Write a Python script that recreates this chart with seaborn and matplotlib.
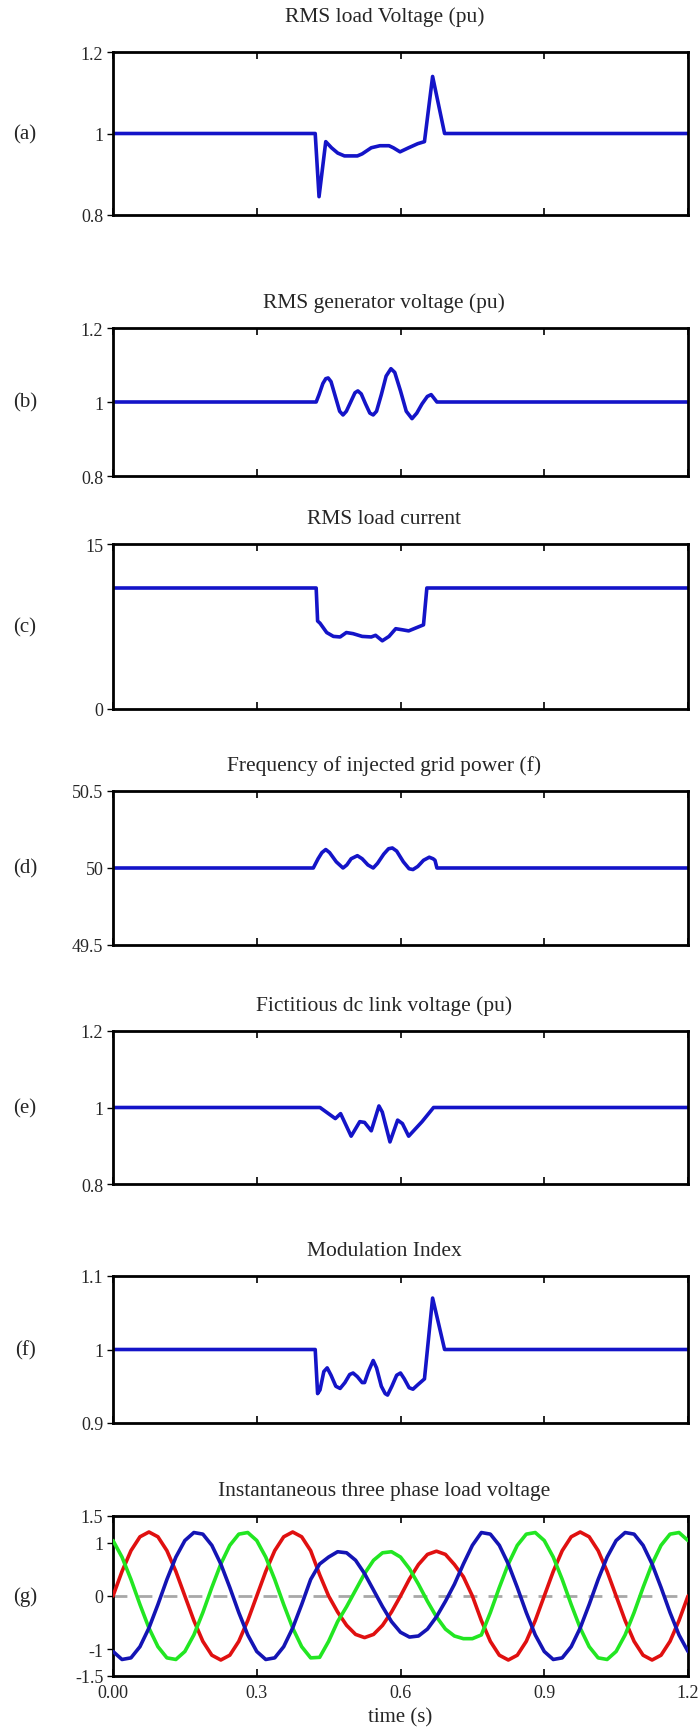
import numpy as np
import pandas as pd
import matplotlib
matplotlib.use("Agg")
import matplotlib.pyplot as plt
import seaborn as sns

# ---------------- data ----------------
titles = ["RMS load Voltage (pu)", "RMS generator voltage (pu)", "RMS load current",
          "Frequency of injected grid power (f)", "Fictitious dc link voltage (pu)",
          "Modulation Index", "Instantaneous three phase load voltage"]
panel_labels = ["(a)", "(b)", "(c)", "(d)", "(e)", "(f)", "(g)"]

ta = [0, 0.422, 0.43, 0.444, 0.456, 0.469, 0.483, 0.51, 0.52, 0.539, 0.557, 0.576, 0.585, 0.599,
      0.617, 0.636, 0.65, 0.667, 0.692, 1.2]
va = [1.0, 1.0, 0.845, 0.98, 0.965, 0.952, 0.945, 0.945, 0.95, 0.965, 0.97, 0.97, 0.965, 0.955,
      0.965, 0.975, 0.98, 1.14, 1.0, 1.0]

tb = [0, 0.424, 0.43, 0.438, 0.444, 0.449, 0.455, 0.464, 0.473, 0.48, 0.487, 0.496, 0.505, 0.511,
      0.518, 0.527, 0.536, 0.543, 0.55, 0.56, 0.57, 0.58, 0.588, 0.6, 0.612, 0.624, 0.634, 0.645,
      0.656, 0.664, 0.67, 0.676, 1.2]
vb = [1.0, 1.0, 1.02, 1.05, 1.063, 1.065, 1.055, 1.015, 0.975, 0.965, 0.975, 1.0, 1.025, 1.03,
      1.022, 0.995, 0.97, 0.965, 0.975, 1.02, 1.07, 1.09, 1.08, 1.03, 0.975, 0.955, 0.97, 0.995,
      1.015, 1.02, 1.01, 1.0, 1.0]

tc = [0, 0.424, 0.427, 0.432, 0.446, 0.46, 0.474, 0.487, 0.501, 0.52, 0.539, 0.548, 0.562,
      0.576, 0.59, 0.604, 0.617, 0.631, 0.648, 0.655, 1.2]
vc = [11.0, 11.0, 8.0, 7.8, 6.95, 6.6, 6.55, 6.95, 6.85, 6.6, 6.55, 6.7, 6.2,
      6.6, 7.3, 7.2, 7.1, 7.35, 7.65, 11.0, 11.0]

td = [0, 0.418, 0.428, 0.436, 0.444, 0.452, 0.466, 0.48, 0.488, 0.497, 0.51, 0.52, 0.532, 0.543,
      0.552, 0.565, 0.575, 0.583, 0.592, 0.606, 0.618, 0.626, 0.636, 0.648, 0.66, 0.668, 0.672,
      0.676, 1.2]
vd = [50.0, 50.0, 50.06, 50.1, 50.12, 50.1, 50.04, 50.0, 50.02, 50.06, 50.08, 50.06, 50.02, 50.0,
      50.03, 50.09, 50.125, 50.13, 50.11, 50.04, 49.995, 49.99, 50.01, 50.05, 50.07, 50.06, 50.05,
      50.0, 50.0]

te = [0, 0.432, 0.464, 0.475, 0.497, 0.515, 0.525, 0.539, 0.555, 0.562, 0.578, 0.594, 0.604,
      0.617, 0.645, 0.669, 1.2]
ve = [1.0, 1.0, 0.971, 0.984, 0.925, 0.963, 0.961, 0.939, 1.004, 0.988, 0.91, 0.967, 0.958,
      0.925, 0.963, 1.0, 1.0]

tf = [0, 0.422, 0.427, 0.432, 0.44, 0.447, 0.455, 0.465, 0.474, 0.484, 0.494, 0.501, 0.51, 0.52,
      0.525, 0.533, 0.543, 0.55, 0.56, 0.568, 0.573, 0.582, 0.592, 0.6, 0.608, 0.618, 0.626, 0.636,
      0.65, 0.667, 0.692, 1.2]
vf = [1.0, 1.0, 0.94, 0.945, 0.97, 0.975, 0.965, 0.95, 0.947, 0.955, 0.966, 0.968, 0.963, 0.955,
      0.955, 0.97, 0.985, 0.975, 0.95, 0.94, 0.938, 0.95, 0.965, 0.968, 0.96, 0.948, 0.946, 0.952,
      0.96, 1.07, 1.0, 1.0]

# instantaneous three-phase voltages, sampled every 0.01875 s from 0 to 1.2 s
tg = np.linspace(0, 1.2, 65)
v_red = [0, 0.46, 0.85, 1.11, 1.2, 1.11, 0.85, 0.46, 0, -0.46, -0.85, -1.11, -1.2, -1.11, -0.85, -0.46,
         0, 0.46, 0.85, 1.11, 1.2, 1.11, 0.85, 0.4,
         0, -0.30, -0.55, -0.72, -0.78, -0.72, -0.55, -0.30,
         0, 0.32, 0.59, 0.78, 0.84, 0.78, 0.59, 0.36,
         0, -0.46, -0.85, -1.11, -1.2, -1.11, -0.85, -0.46,
         0, 0.46, 0.85, 1.11, 1.2, 1.11, 0.85, 0.46, 0, -0.46, -0.85, -1.11, -1.2, -1.11, -0.85, -0.46,
         0]
v_blue = [-1.04, -1.19, -1.16, -0.95, -0.6, -0.16, 0.31, 0.73, 1.04, 1.19, 1.16, 0.95, 0.6, 0.16, -0.31, -0.73,
          -1.04, -1.19, -1.16, -0.95, -0.6, -0.16, 0.31, 0.6,
          0.73, 0.83, 0.81, 0.67, 0.42, 0.11, -0.20, -0.48,
          -0.68, -0.77, -0.75, -0.62, -0.39, -0.10, 0.22, 0.6,
          0.95, 1.19, 1.16, 0.95, 0.6, 0.16, -0.31, -0.73,
          -1.04, -1.19, -1.16, -0.95, -0.6, -0.16, 0.31, 0.73, 1.04, 1.19, 1.16, 0.95, 0.6, 0.16, -0.31, -0.73,
          -1.04]
v_green = [1.04, 0.73, 0.31, -0.16, -0.6, -0.95, -1.16, -1.19, -1.04, -0.73, -0.31, 0.16, 0.6, 0.95, 1.16, 1.19,
           1.04, 0.73, 0.31, -0.16, -0.6, -0.95, -1.16, -1.15,
           -0.85, -0.48, -0.20, 0.11, 0.42, 0.67, 0.81, 0.83,
           0.73, 0.51, 0.22, -0.10, -0.39, -0.62, -0.75, -0.8,
           -0.8, -0.73, -0.31, 0.16, 0.6, 0.95, 1.16, 1.19,
           1.04, 0.73, 0.31, -0.16, -0.6, -0.95, -1.16, -1.19, -1.04, -0.73, -0.31, 0.16, 0.6, 0.95, 1.16, 1.19,
           1.04]

ylims = [(0.8, 1.2), (0.8, 1.2), (0, 15), (49.5, 50.5), (0.8, 1.2), (0.9, 1.1), (-1.5, 1.5)]
yticks = [[0.8, 1.0, 1.2], [0.8, 1.0, 1.2], [0, 15], [49.5, 50.0, 50.5], [0.8, 1.0, 1.2],
          [0.9, 1.0, 1.1], [-1.5, -1, 0, 1, 1.5]]
ytlabels = [["0.8", "1", "1.2"], ["0.8", "1", "1.2"], ["0", "15"], ["49.5", "50", "50.5"],
            ["0.8", "1", "1.2"], ["0.9", "1", "1.1"], ["-1.5", "-1", "0", "1", "1.5"]]
xticks = [0, 0.3, 0.6, 0.9, 1.2]
xtlabels = ["0.00", "0.3", "0.6", "0.9", "1.2"]

# ---------------- style ----------------
sns.set_theme(style="white")
plt.rcParams["font.family"] = ["Liberation Serif", "DejaVu Serif"]
BLUE = "#1414c8"

W, H = 700, 1731
fig = plt.figure(figsize=(W / 100, H / 100), dpi=100)
tops = [53, 329, 545, 792, 1032, 1277, 1517]
bottoms = [216, 477, 710, 946, 1185, 1424, 1677]
title_pads = [22, 15, 15, 15, 15, 15, 15]
left, right = 113, 688

series = [(ta, va), (tb, vb), (tc, vc), (td, vd), (te, ve), (tf, vf)]

for i in range(7):
    ax = fig.add_axes([left / W, 1 - bottoms[i] / H, (right - left) / W, (bottoms[i] - tops[i]) / H])
    if i < 6:
        t, v = series[i]
        sns.lineplot(x=t, y=v, ax=ax, color=BLUE, linewidth=2.6, estimator=None)
    else:
        ax.axhline(0, color="#a8a8a8", lw=2, ls=(0, (5, 4)), zorder=1)
        df = pd.DataFrame({
            "t": np.concatenate([tg, tg, tg]),
            "v": v_red + v_green + v_blue,
            "phase": ["a"] * len(tg) + ["b"] * len(tg) + ["c"] * len(tg),
        })
        sns.lineplot(data=df, x="t", y="v", hue="phase", ax=ax, estimator=None,
                     palette={"a": "#e01010", "b": "#22e622", "c": "#1414b4"},
                     linewidth=2.6, legend=False, zorder=3)
    for ln in ax.get_lines():
        ln.set_solid_joinstyle("round")
    ax.set_xlim(0, 1.2)
    ax.set_ylim(*ylims[i])
    ax.set_yticks(yticks[i])
    ax.set_yticklabels(ytlabels[i], fontsize=13)
    ax.set_xticks(xticks)
    if i == 6:
        ax.set_xticklabels(xtlabels, fontsize=13)
        ax.set_xlabel("time (s)", fontsize=15, labelpad=4)
    else:
        ax.set_xticklabels([])
        ax.set_xlabel("")
    ax.set_ylabel("")
    ax.tick_params(axis="x", direction="in", top=True, bottom=True, length=5, width=1.2,
                   color="black", pad=6)
    ax.tick_params(axis="y", direction="out", left=True, length=4, width=1.0, color="black", pad=3)
    for s in ax.spines.values():
        s.set_color("black")
        s.set_linewidth(2)
    ax.set_title(titles[i], fontsize=15.5, pad=title_pads[i], x=0.472)
    yc = 1 - (tops[i] + bottoms[i]) / 2 / H
    fig.text(25 / W, yc, panel_labels[i], fontsize=15, ha="center", va="center")

fig.savefig("out.png", dpi=100)
